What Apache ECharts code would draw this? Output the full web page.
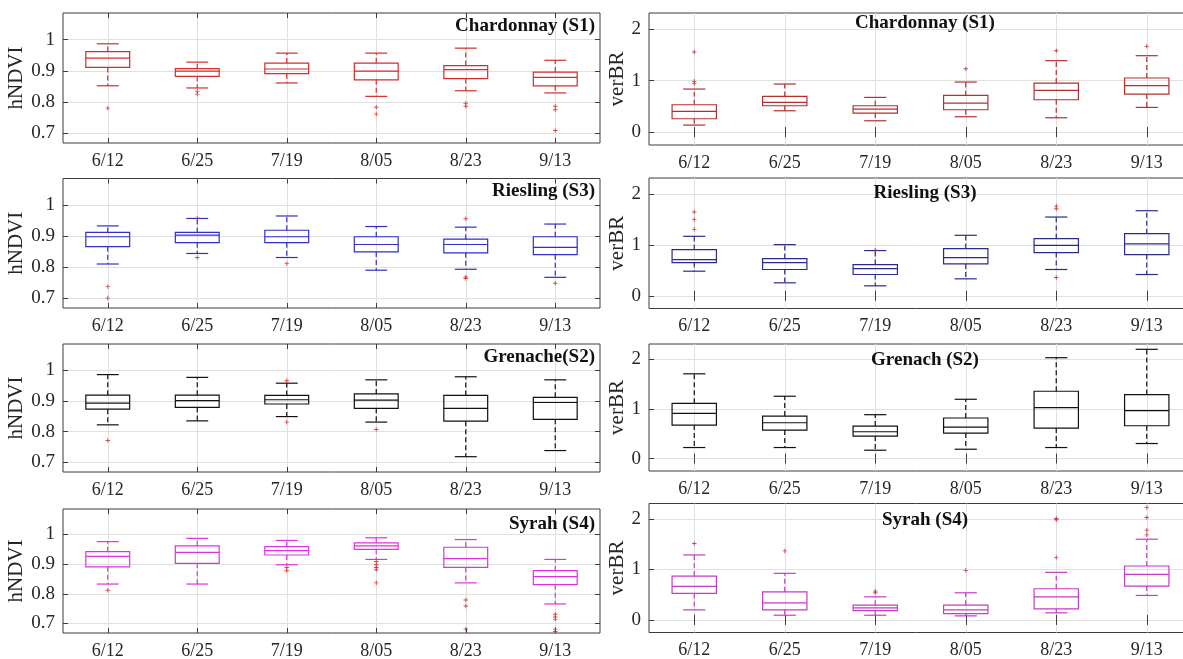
<!DOCTYPE html>
<html>
<head>
<meta charset="utf-8">
<script src="https://cdn.jsdelivr.net/npm/echarts@6/dist/echarts.min.js"></script>
<style>
html, body { margin: 0; padding: 0; background: #ffffff; }
#chart { width: 1183px; height: 659px; }
</style>
</head>
<body>
<div id="chart"></div>
<script>
// Acquisition dates (categories)
const dates = ['6/12', '6/25', '7/19', '8/05', '8/23', '9/13'];

// Tick labels of the two metrics
const ndviTicks = [0.7, 0.8, 0.9, 1];
const brTicks = [0, 1, 2];

// Box statistics per date: [lower whisker, Q1, median, Q3, upper whisker]
// Outliers: [date index, value]
const chardNdvi = [
  [0.852, 0.911, 0.941, 0.962, 0.987],
  [0.845, 0.882, 0.899, 0.907, 0.928],
  [0.861, 0.891, 0.906, 0.925, 0.957],
  [0.818, 0.871, 0.899, 0.925, 0.957],
  [0.836, 0.875, 0.904, 0.917, 0.973],
  [0.829, 0.852, 0.879, 0.896, 0.934]
];
const chardNdviOut = [[0, 0.780], [1, 0.834], [1, 0.825], [3, 0.783], [3, 0.761],
  [4, 0.796], [4, 0.786], [5, 0.786], [5, 0.775], [5, 0.708]];

const chardBr = [
  [0.136, 0.259, 0.401, 0.531, 0.835],
  [0.414, 0.511, 0.576, 0.693, 0.932],
  [0.220, 0.369, 0.447, 0.511, 0.673],
  [0.298, 0.434, 0.563, 0.712, 0.971],
  [0.278, 0.628, 0.809, 0.951, 1.385],
  [0.479, 0.738, 0.900, 1.049, 1.482]
];
const chardBrOut = [[0, 1.553], [0, 0.984], [0, 0.940], [3, 1.230], [4, 1.579], [5, 1.663]];

const rieslNdvi = [
  [0.810, 0.866, 0.898, 0.912, 0.933],
  [0.844, 0.879, 0.903, 0.912, 0.957],
  [0.831, 0.879, 0.898, 0.919, 0.965],
  [0.790, 0.849, 0.873, 0.898, 0.931],
  [0.793, 0.846, 0.873, 0.890, 0.929],
  [0.767, 0.840, 0.864, 0.898, 0.939]
];
const rieslNdviOut = [[0, 0.737], [0, 0.700], [1, 0.958], [1, 0.831], [2, 0.812],
  [4, 0.956], [4, 0.768], [4, 0.763], [5, 0.748]];

const rieslBr = [
  [0.482, 0.651, 0.710, 0.906, 1.166],
  [0.254, 0.515, 0.651, 0.730, 1.003],
  [0.195, 0.417, 0.534, 0.612, 0.886],
  [0.332, 0.625, 0.749, 0.925, 1.186],
  [0.515, 0.847, 0.990, 1.121, 1.544],
  [0.417, 0.808, 1.016, 1.218, 1.668]
];
const rieslBrOut = [[0, 1.642], [0, 1.498], [0, 1.303], [2, 0.893], [4, 1.759], [4, 1.707], [4, 0.358]];

const grenNdvi = [
  [0.822, 0.873, 0.893, 0.919, 0.986],
  [0.835, 0.879, 0.901, 0.919, 0.977],
  [0.849, 0.890, 0.904, 0.918, 0.958],
  [0.831, 0.876, 0.903, 0.923, 0.969],
  [0.718, 0.834, 0.876, 0.918, 0.979],
  [0.738, 0.840, 0.895, 0.912, 0.969]
];
const grenNdviOut = [[0, 0.771], [2, 0.966], [2, 0.831], [3, 0.807]];

const grenBr = [
  [0.223, 0.676, 0.912, 1.115, 1.709],
  [0.223, 0.574, 0.723, 0.858, 1.257],
  [0.169, 0.453, 0.541, 0.655, 0.885],
  [0.189, 0.514, 0.635, 0.818, 1.196],
  [0.223, 0.615, 1.027, 1.358, 2.034],
  [0.304, 0.662, 0.966, 1.291, 2.203]
];
const grenBrOut = [];

const syrahNdvi = [
  [0.833, 0.891, 0.926, 0.942, 0.976],
  [0.833, 0.903, 0.940, 0.962, 0.987],
  [0.898, 0.931, 0.946, 0.959, 0.980],
  [0.916, 0.950, 0.962, 0.972, 0.989],
  [0.837, 0.889, 0.919, 0.957, 0.983],
  [0.766, 0.831, 0.858, 0.878, 0.916]
];
const syrahNdviOut = [[0, 0.812], [2, 0.889], [2, 0.878], [3, 0.909], [3, 0.898], [3, 0.889],
  [3, 0.881], [3, 0.837], [4, 0.779], [4, 0.759], [4, 0.681], [5, 0.731], [5, 0.722],
  [5, 0.714], [5, 0.681], [5, 0.673]];

const syrahBr = [
  [0.199, 0.525, 0.664, 0.870, 1.289],
  [0.093, 0.199, 0.339, 0.558, 0.924],
  [0.093, 0.186, 0.239, 0.292, 0.458],
  [0.080, 0.126, 0.199, 0.292, 0.538],
  [0.140, 0.219, 0.458, 0.618, 0.944],
  [0.485, 0.671, 0.904, 1.070, 1.601]
];
const syrahBrOut = [[0, 1.515], [1, 1.369], [2, 0.571], [2, 0.538], [3, 0.983], [4, 2.013],
  [4, 1.987], [4, 1.236], [5, 2.233], [5, 2.033], [5, 1.781], [5, 1.688]];

// Panels, row by row: hNDVI on the left, verBR on the right
const panels = [
  { title: 'Chardonnay (S1)', boxes: chardNdvi, out: chardNdviOut, metric: 'ndvi', color: '#d42c2c', outColor: '#e3191b' },
  { title: 'Chardonnay (S1)', boxes: chardBr, out: chardBrOut, metric: 'br', color: '#b3302f', outColor: '#b32222' },
  { title: 'Riesling (S3)', boxes: rieslNdvi, out: rieslNdviOut, metric: 'ndvi', color: '#2f2fc8', outColor: '#e3191b' },
  { title: 'Riesling (S3)', boxes: rieslBr, out: rieslBrOut, metric: 'br', color: '#2b2b8c', outColor: '#c02020' },
  { title: 'Grenache(S2)', boxes: grenNdvi, out: grenNdviOut, metric: 'ndvi', color: '#111111', outColor: '#e3191b' },
  { title: 'Grenach (S2)', boxes: grenBr, out: grenBrOut, metric: 'br', color: '#111111', outColor: '#e3191b' },
  { title: 'Syrah (S4)', boxes: syrahNdvi, out: syrahNdviOut, metric: 'ndvi', color: '#dd33dd', outColor: '#e3191b' },
  { title: 'Syrah (S4)', boxes: syrahBr, out: syrahBrOut, metric: 'br', color: '#c43dc4', outColor: '#c42030' }
];

const metrics = {
  ndvi: { name: 'hNDVI', min: 0.668, max: 1.086, ticks: ndviTicks, nameGap: 28 },
  br: { name: 'verBR', min: -0.25, max: 2.31, ticks: brTicks, nameGap: 13 }
};

// Figure layout (pixels); the right column runs slightly past the canvas edge
const colLeft = [63, 649];
const colWidth = [537, 543];
const rowTop = [[13, 178.5, 344, 509], [13, 178, 344, 503.5]];
const rowHeight = [[130, 129.5, 128, 124], [132, 130.5, 127, 129]];
const titleOffset = [[13.5, 13, 13, 15], [10, 15, 16, 17]];

const FONT = '"Liberation Serif", "Times New Roman", serif';
const INK = '#262626';
const FRAME = '#3c3c3c';
const GRID = '#e0e0e0';
const PLUS = 'path://M2,0H3V2H5V3H3V5H2V3H0V2H2Z';

function boxRenderer(color) {
  return function (params, api) {
    const k = api.value(0);
    const lo = api.coord([k, api.value(1)]);
    const q1 = api.coord([k, api.value(2)]);
    const md = api.coord([k, api.value(3)]);
    const q3 = api.coord([k, api.value(4)]);
    const hi = api.coord([k, api.value(5)]);
    const band = api.size([1, 0])[0];
    const bw = band * 0.49;
    const cw = band * 0.245;
    const cx = md[0];
    const solid = { stroke: color, lineWidth: 1.2, fill: null };
    const dashed = { stroke: color, lineWidth: 1.2, lineDash: [5, 3] };
    return {
      type: 'group',
      children: [
        { type: 'line', shape: { x1: cx, y1: q3[1], x2: cx, y2: hi[1] }, style: dashed },
        { type: 'line', shape: { x1: cx, y1: q1[1], x2: cx, y2: lo[1] }, style: dashed },
        { type: 'line', shape: { x1: cx - cw / 2, y1: hi[1], x2: cx + cw / 2, y2: hi[1] }, style: solid },
        { type: 'line', shape: { x1: cx - cw / 2, y1: lo[1], x2: cx + cw / 2, y2: lo[1] }, style: solid },
        { type: 'rect', shape: { x: cx - bw / 2, y: q3[1], width: bw, height: q1[1] - q3[1] }, style: solid },
        { type: 'line', shape: { x1: cx - bw / 2, y1: md[1], x2: cx + bw / 2, y2: md[1] }, style: solid }
      ]
    };
  };
}

const grids = [], xAxes = [], yAxes = [], series = [], graphics = [];

panels.forEach(function (p, i) {
  const row = Math.floor(i / 2), col = i % 2;
  const m = metrics[p.metric];
  const top = rowTop[col][row], height = rowHeight[col][row];

  grids.push({
    left: colLeft[col], top: top, width: colWidth[col], height: height,
    outerBoundsMode: 'none', containLabel: false,
    show: true, borderColor: FRAME, borderWidth: 1, backgroundColor: 'transparent'
  });

  const tickStyle = { color: FRAME, width: 1 };
  xAxes.push({
    type: 'category', gridIndex: i, data: dates, position: 'bottom', boundaryGap: true,
    axisLine: { show: false },
    axisTick: { show: true, inside: true, alignWithLabel: true, length: 5, lineStyle: tickStyle },
    axisLabel: { margin: 9, fontSize: 18, fontFamily: FONT, color: INK },
    splitLine: { show: true, alignWithLabel: true, lineStyle: { color: GRID, width: 1 } }
  });
  xAxes.push({
    type: 'category', gridIndex: i, data: dates, position: 'top', boundaryGap: true,
    axisLine: { show: false },
    axisTick: { show: true, inside: true, alignWithLabel: true, length: 5, lineStyle: tickStyle },
    axisLabel: { show: false }, splitLine: { show: false }
  });
  yAxes.push({
    type: 'value', gridIndex: i, position: 'left', min: m.min, max: m.max,
    axisLine: { show: false },
    axisTick: { show: true, inside: true, length: 5, lineStyle: tickStyle, customValues: m.ticks },
    axisLabel: { customValues: m.ticks, margin: 8, fontSize: 19, fontFamily: FONT, color: INK },
    splitLine: { show: true, lineStyle: { color: GRID, width: 1 } },
    name: m.name, nameLocation: 'middle', nameGap: m.nameGap,
    nameTextStyle: { fontSize: 21, fontFamily: FONT, color: INK }
  });
  yAxes.push({
    type: 'value', gridIndex: i, position: 'right', min: m.min, max: m.max,
    axisLine: { show: false },
    axisTick: { show: true, inside: true, length: 5, lineStyle: tickStyle, customValues: m.ticks },
    axisLabel: { show: false }, splitLine: { show: false }
  });

  series.push({
    type: 'custom', xAxisIndex: 2 * i, yAxisIndex: 2 * i, z: 3,
    renderItem: boxRenderer(p.color),
    data: p.boxes.map(function (b, k) { return [k].concat(b); }),
    silent: true, animation: false
  });
  series.push({
    type: 'scatter', xAxisIndex: 2 * i, yAxisIndex: 2 * i, z: 4,
    symbol: PLUS, symbolSize: 4.5,
    itemStyle: { color: p.outColor },
    data: p.out, silent: true, animation: false
  });

  const ty = top + titleOffset[col][row];
  graphics.push({
    type: 'text', z: 10,
    x: col === 0 ? colLeft[0] + colWidth[0] - 5 : 925,
    y: ty,
    style: {
      text: p.title, font: 'bold 19px ' + FONT, fill: '#111111',
      textAlign: col === 0 ? 'right' : 'center', textVerticalAlign: 'middle'
    }
  });
});

const chart = echarts.init(document.getElementById('chart'), null, { renderer: 'canvas' });
chart.setOption({
  backgroundColor: '#ffffff',
  animation: false,
  grid: grids,
  xAxis: xAxes,
  yAxis: yAxes,
  series: series,
  graphic: graphics
});
</script>
</body>
</html>
